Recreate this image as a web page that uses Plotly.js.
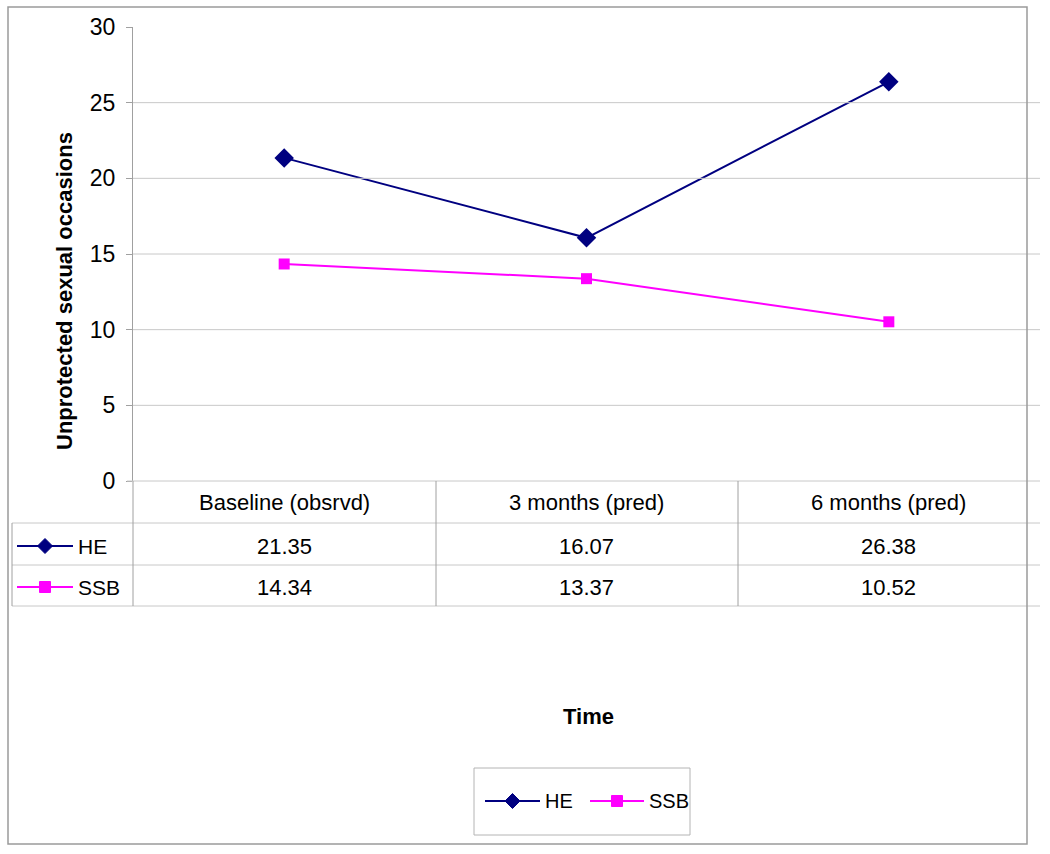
<!DOCTYPE html>
<html>
<head>
<meta charset="utf-8">
<script src="https://cdn.plot.ly/plotly-3.0.1.min.js"></script>
<style>html,body{margin:0;padding:0;background:#fff;}#chart{width:1050px;height:854px;}</style>
</head>
<body>
<div id="chart"></div>
<script>
// ---- data ----
const categories = ['Baseline (obsrvd)', '3 months (pred)', '6 months (pred)'];
const heValues = [21.35, 16.07, 26.38];
const ssbValues = [14.34, 13.37, 10.52];
const seriesNames = ['HE', 'SSB'];
const yTickVals = [0, 5, 10, 15, 20, 25, 30];
const yTitle = 'Unprotected sexual occasions';
const xTitle = 'Time';

// ---- helpers ----
const W = 1050, H = 854;
const px = x => x / W;
const py = y => 1 - y / H;
const FONT = 'Liberation Sans, Arial, sans-serif';
const navy = '#000080', magenta = '#FF00FF';
const TXT = 22;

const traces = [
  {x: categories, y: heValues, name: seriesNames[0], type: 'scatter', mode: 'lines+markers',
   line: {color: navy, width: 2}, marker: {symbol: 'diamond', size: 15, color: navy}, showlegend: false},
  {x: categories, y: ssbValues, name: seriesNames[1], type: 'scatter', mode: 'lines+markers',
   line: {color: magenta, width: 2}, marker: {symbol: 'square', size: 11, color: magenta}, showlegend: false}
];

const shapes = [];
const annotations = [];
const gridC = '#c8c8c8', darkC = '#a0a0a0';

// gridlines (not at 0 or 30)
yTickVals.filter(v => v > 0 && v < 30).forEach(v => {
  shapes.push({type: 'line', xref: 'paper', yref: 'y', x0: px(133), x1: px(1040), y0: v, y1: v,
    line: {color: gridC, width: 1}});
});

// table lines
shapes.push({type: 'line', xref: 'paper', yref: 'paper', x0: px(127), x1: px(1040), y0: py(481), y1: py(481), line: {color: gridC, width: 1}});
[523, 565, 606].forEach(y => shapes.push({type: 'line', xref: 'paper', yref: 'paper', x0: px(12), x1: px(1040), y0: py(y), y1: py(y), line: {color: gridC, width: 1}}));
shapes.push({type: 'line', xref: 'paper', yref: 'paper', x0: px(12), x1: px(12), y0: py(523), y1: py(606), line: {color: darkC, width: 1}});
[133, 436, 738].forEach(x => shapes.push({type: 'line', xref: 'paper', yref: 'paper', x0: px(x), x1: px(x), y0: py(481), y1: py(606), line: {color: darkC, width: 1}}));

// category labels
categories.forEach((c) => annotations.push({xref: 'x', yref: 'paper', x: c, y: py(502), text: c, showarrow: false,
  font: {family: FONT, size: TXT, color: '#000'}, xanchor: 'center', yanchor: 'middle'}));
// value cells
const rowsY = [546, 587];
[heValues, ssbValues].forEach((vals, r) => {
  vals.forEach((v, i) => annotations.push({xref: 'x', yref: 'paper', x: categories[i], y: py(rowsY[r]), text: v.toFixed(2),
    showarrow: false, font: {family: FONT, size: TXT, color: '#000'}, xanchor: 'center', yanchor: 'middle'}));
});

// legend keys (shapes + text)
function legendKey(x0, x1, yc, color, symbol, label, fs) {
  shapes.push({type: 'line', xref: 'paper', yref: 'paper', x0: px(x0), x1: px(x1), y0: py(yc), y1: py(yc), line: {color: color, width: 2}});
  const cx = (x0 + x1) / 2;
  if (symbol === 'diamond') {
    const r = 7.5;
    shapes.push({type: 'path', xref: 'paper', yref: 'paper',
      path: `M${px(cx - r)},${py(yc)} L${px(cx)},${py(yc - r)} L${px(cx + r)},${py(yc)} L${px(cx)},${py(yc + r)} Z`,
      fillcolor: color, line: {color: color, width: 1}});
  } else {
    const s = 5.5;
    shapes.push({type: 'rect', xref: 'paper', yref: 'paper', x0: px(cx - s), x1: px(cx + s), y0: py(yc + s), y1: py(yc - s),
      fillcolor: color, line: {color: color, width: 1}});
  }
  annotations.push({xref: 'paper', yref: 'paper', x: px(x1 + 3), y: py(yc), text: label, showarrow: false,
    font: {family: FONT, size: fs, color: '#000'}, xanchor: 'left', yanchor: 'middle'});
}
// in table
legendKey(17, 73, rowsY[0], navy, 'diamond', seriesNames[0], 21);
legendKey(17, 73, rowsY[1], magenta, 'square', seriesNames[1], 21);
// bottom legend
legendKey(485, 540, 801, navy, 'diamond', seriesNames[0], 20);
legendKey(590, 644, 801, magenta, 'square', seriesNames[1], 20);

// legend box
shapes.push({type: 'rect', xref: 'paper', yref: 'paper', x0: px(474), x1: px(690), y0: py(835), y1: py(768),
  line: {color: '#b4b4b4', width: 1}, fillcolor: 'rgba(0,0,0,0)'});
// outer border
shapes.push({type: 'rect', xref: 'paper', yref: 'paper', x0: px(8), x1: px(1027), y0: py(844), y1: py(7),
  line: {color: '#9a9a9a', width: 1.5}, fillcolor: 'rgba(0,0,0,0)'});

// axis titles
annotations.push({xref: 'paper', yref: 'paper', x: px(64), y: py(291), text: '<b>' + yTitle + '</b>', textangle: -90,
  showarrow: false, font: {family: FONT, size: TXT, color: '#000'}, xanchor: 'center', yanchor: 'middle'});
annotations.push({xref: 'paper', yref: 'paper', x: px(588), y: py(716), text: '<b>' + xTitle + '</b>',
  showarrow: false, font: {family: FONT, size: TXT, color: '#000'}, xanchor: 'center', yanchor: 'middle'});

const layout = {
  width: W, height: H,
  margin: {l: 0, r: 0, t: 0, b: 0},
  paper_bgcolor: '#fff', plot_bgcolor: 'rgba(0,0,0,0)',
  font: {family: FONT, size: TXT, color: '#000'},
  xaxis: {type: 'category', range: [-0.5, 2.5], domain: [px(133), px(1040)], showticklabels: false,
    showgrid: false, zeroline: false, showline: false, ticks: '', fixedrange: true},
  yaxis: {range: [0, 30], domain: [py(481), py(27)], tickvals: yTickVals, ticks: 'outside', ticklen: 6,
    tickcolor: darkC, showline: true, linecolor: darkC, linewidth: 1, showgrid: false, zeroline: false,
    tickfont: {family: FONT, size: 23, color: '#000'}, ticklabelstandoff: 6, fixedrange: true},
  showlegend: false,
  shapes: shapes,
  annotations: annotations
};

Plotly.newPlot('chart', traces, layout, {staticPlot: true, displayModeBar: false});
</script>
</body>
</html>
